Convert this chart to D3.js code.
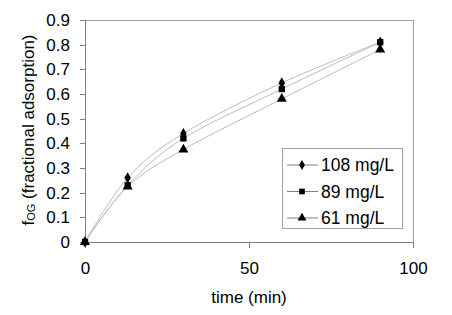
<!DOCTYPE html>
<html>
<head>
<meta charset="utf-8">
<script src="https://cdn.jsdelivr.net/npm/d3@7"></script>
<style>
  body { margin: 0; background: #fff; }
  text { font-family: "Liberation Sans", Arial, sans-serif; fill: #000; }
</style>
</head>
<body>
<svg id="chart" width="452" height="315"></svg>
<script>
// time points and the three series
const times = [0, 13, 30, 60, 90];
const c108 = [0, 0.26, 0.44, 0.645, 0.81];
const c89 = [0, 0.23, 0.42, 0.62, 0.81];
const c61 = [0, 0.225, 0.375, 0.58, 0.78];
const seriesNames = ["108 mg/L", "89 mg/L", "61 mg/L"];
const xTicks = [0, 50, 100];
const yTicks = [0, 0.1, 0.2, 0.3, 0.4, 0.5, 0.6, 0.7, 0.8, 0.9];

const series = [
  {name: seriesNames[0], values: c108, shape: d3.symbolDiamond, size: 36},
  {name: seriesNames[1], values: c89, shape: d3.symbolSquare, size: 40},
  {name: seriesNames[2], values: c61, shape: d3.symbolTriangle, size: 44}
];

const svg = d3.select("#chart");
const m = {left: 85, top: 20, right: 413, bottom: 242};

const x = d3.scaleLinear().domain([0, 100]).range([m.left, m.right]);
const y = d3.scaleLinear().domain([0, 0.9]).range([m.bottom, m.top]);

// plot frame (top and right are lighter)
svg.append("path")
  .attr("d", `M${m.left},${m.top}H${m.right}V${m.bottom}`)
  .attr("fill", "none").attr("stroke", "#a0a0a0").attr("stroke-width", 1)
  .attr("shape-rendering", "crispEdges");

// axes
const xAxis = svg.append("g").attr("transform", `translate(0,${m.bottom})`)
  .call(d3.axisBottom(x).tickValues(xTicks).tickSize(6).tickPadding(14).tickFormat(d3.format("d")));
const yAxis = svg.append("g").attr("transform", `translate(${m.left},0)`)
  .call(d3.axisLeft(y).tickValues(yTicks).tickSize(5).tickPadding(10).tickFormat(d => d === 0 ? "0" : d3.format(".1f")(d)));

[xAxis, yAxis].forEach(g => {
  g.select(".domain").attr("stroke", "#808080").attr("shape-rendering", "crispEdges");
  g.selectAll(".tick line").attr("stroke", "#808080").attr("shape-rendering", "crispEdges");
  g.selectAll(".tick text").attr("font-size", 17).attr("font-family", "Liberation Sans, Arial, sans-serif").attr("fill", "#000");
});

// axis titles
svg.append("text")
  .attr("x", 249).attr("y", 303)
  .attr("text-anchor", "middle").attr("font-size", 17)
  .text("time (min)");

const yt = svg.append("text")
  .attr("transform", `translate(34,130) rotate(-90)`)
  .attr("text-anchor", "middle").attr("font-size", 17);
yt.append("tspan").text("f");
yt.append("tspan").attr("font-size", 11).attr("dy", 1).text("OG");
yt.append("tspan").attr("dy", -1).text(" (fractional adsorption)");

// smoothed lines
const line = d3.line()
  .x((d, i) => x(times[i]))
  .y(d => y(d))
  .curve(d3.curveCardinal.tension(0));

svg.append("g").selectAll("path")
  .data(series)
  .join("path")
  .attr("d", s => line(s.values))
  .attr("fill", "none")
  .attr("stroke", "#bdbdbd")
  .attr("stroke-width", 1);

// markers
series.forEach(s => {
  svg.append("g").selectAll("path")
    .data(s.values)
    .join("path")
    .attr("transform", (d, i) => `translate(${x(times[i])},${y(d)})`)
    .attr("d", d3.symbol().type(s.shape).size(s.size))
    .attr("fill", "#000");
});

// legend
const lg = svg.append("g");
lg.append("rect")
  .attr("x", 282.5).attr("y", 148.5).attr("width", 120).attr("height", 80)
  .attr("fill", "#fff").attr("stroke", "#a0a0a0");
series.forEach((s, i) => {
  const ly = 165 + i * 26.5;
  lg.append("line").attr("x1", 287).attr("x2", 318).attr("y1", ly).attr("y2", ly)
    .attr("stroke", "#808080");
  lg.append("path").attr("transform", `translate(302,${ly})`)
    .attr("d", d3.symbol().type(s.shape).size(s.size * 0.8)).attr("fill", "#000");
  lg.append("text").attr("x", 321).attr("y", ly + 6).attr("font-size", 17.5).text(s.name);
});
</script>
</body>
</html>
